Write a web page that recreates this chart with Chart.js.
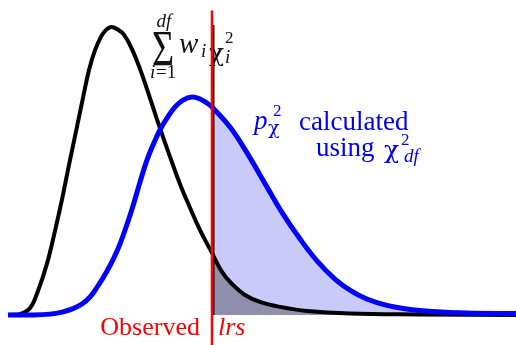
<!DOCTYPE html>
<html>
<head>
<meta charset="utf-8">
<script src="https://cdn.jsdelivr.net/npm/chart.js@4.4.0/dist/chart.umd.min.js"></script>
<style>
    body { margin: 0; background: #fff; }
</style>
</head>
<body>
<canvas id="myChart" width="516" height="345"></canvas>
<script>
// weighted sum of chi-square (black) and plain chi-square with df (blue)
let mixX = [0, 0.47, 0.87, 1.18, 1.54, 1.85, 2.13, 2.40, 2.68, 2.95, 3.19, 3.43, 3.66, 3.86, 4.06, 4.29, 4.57, 4.88, 5.20, 5.59, 5.98, 6.38, 6.77, 7.17, 7.56, 8.03, 8.43, 8.82, 9.33, 9.92, 10.71, 11.77, 13.46, 16.22, 20];
let mixY = [0, 0.003, 0.024, 0.083, 0.179, 0.290, 0.400, 0.517, 0.634, 0.748, 0.845, 0.914, 0.959, 0.983, 0.993, 0.986, 0.966, 0.917, 0.848, 0.748, 0.645, 0.545, 0.452, 0.369, 0.293, 0.214, 0.148, 0.107, 0.069, 0.045, 0.028, 0.014, 0.005, 0.002, 0];

let dfX = [0, 0.87, 1.65, 2.13, 2.56, 2.91, 3.23, 3.54, 3.90, 4.17, 4.41, 4.69, 4.92, 5.20, 5.47, 5.71, 5.98, 6.26, 6.57, 6.89, 7.24, 7.56, 7.83, 8.03, 8.74, 9.41, 10.20, 10.83, 11.50, 12.20, 12.87, 13.46, 14.13, 14.92, 15.83, 16.73, 18.07, 20];
let dfY = [0, 0, 0.003, 0.010, 0.022, 0.038, 0.062, 0.100, 0.152, 0.197, 0.245, 0.314, 0.376, 0.459, 0.534, 0.586, 0.638, 0.679, 0.717, 0.741, 0.752, 0.745, 0.731, 0.717, 0.648, 0.559, 0.441, 0.348, 0.262, 0.183, 0.124, 0.086, 0.055, 0.033, 0.019, 0.012, 0.007, 0.005];

// observed lrs
let observed = 8.03;

function pts(xs, ys) {
    return xs.map((x, i) => ({ x: x, y: ys[i] }));
}
function tail(xs, ys) {
    return pts(xs, ys).filter(p => p.x >= observed);
}

function chi(ctx, x, y, size) {
    ctx.font = size + 'px "DejaVu Serif"';
    ctx.fillText('\u03c7', x, y);
}

// labels drawn under the curves
const labels = {
    id: 'labels',
    beforeDatasetsDraw(chart) {
        let ctx = chart.ctx;
        ctx.save();
        ctx.textBaseline = 'alphabetic';
        ctx.textAlign = 'left';

        // sum w_i chi_i^2
        ctx.fillStyle = '#111';
        ctx.save();
        ctx.translate(152, 65);
        ctx.scale(0.76, 1);
        ctx.font = '50px "Liberation Serif"';
        ctx.fillText('\u03a3', 0, 0);
        ctx.restore();
        ctx.textAlign = 'center';
        ctx.font = 'italic 19px "Liberation Serif"';
        ctx.fillText('df', 164, 27);
        ctx.textAlign = 'left';
        ctx.fillText('i', 150, 78);
        ctx.font = '19px "Liberation Serif"';
        ctx.fillText('=1', 156, 78);
        ctx.font = 'italic 29px "Liberation Serif"';
        ctx.fillText('w', 179, 53);
        ctx.font = 'italic 19px "Liberation Serif"';
        ctx.fillText('i', 201, 57);
        chi(ctx, 209, 61, 25);
        ctx.font = '17px "Liberation Serif"';
        ctx.fillText('2', 225, 43);
        ctx.font = 'italic 19px "Liberation Serif"';
        ctx.fillText('i', 225, 63);

        // p_chi^2 calculated using chi^2_df
        ctx.fillStyle = '#0000f0';
        ctx.font = 'italic 27px "Liberation Serif"';
        ctx.fillText('p', 254, 129);
        ctx.font = '17px "Liberation Serif"';
        ctx.fillText('2', 273, 116);
        chi(ctx, 268, 134, 19);
        ctx.font = '27px "Liberation Serif"';
        ctx.fillText('calculated', 299, 130);
        ctx.fillText('using', 316, 156);
        chi(ctx, 384, 158, 25);
        ctx.font = '17px "Liberation Serif"';
        ctx.fillText('2', 401, 145);
        ctx.font = 'italic 19px "Liberation Serif"';
        ctx.fillText('df', 404, 162);

        // p_chi^2 inside the blue tail
        ctx.font = 'italic 27px "Liberation Serif"';
        ctx.fillText('p', 246, 250);
        ctx.font = '17px "Liberation Serif"';
        ctx.fillText('2', 268, 239);
        chi(ctx, 263, 257, 19);

        // p inside the grey tail
        ctx.fillStyle = '#111';
        ctx.font = 'italic 27px "Liberation Serif"';
        ctx.fillText('p', 228, 301);

        // Observed lrs
        let xr = chart.scales.x.getPixelForValue(observed);
        ctx.fillStyle = '#ff0000';
        ctx.font = '26px "Liberation Serif"';
        ctx.textAlign = 'right';
        ctx.fillText('Observed', xr - 12, 335);
        ctx.textAlign = 'left';
        ctx.font = 'italic 26px "Liberation Serif"';
        ctx.fillText('lrs', xr + 6, 335);

        ctx.restore();
    }
};

let ctx = document.getElementById('myChart').getContext('2d');
let chart = new Chart(ctx, {
    type: 'scatter',
    data: {
        datasets: [{
            // observed value
            data: [{ x: observed, y: -0.11 }, { x: observed, y: 1.05 }],
            showLine: true,
            borderColor: '#ff0000',
            borderWidth: 2.5,
            pointRadius: 0,
            clip: false
        }, {
            data: pts(dfX, dfY),
            showLine: true,
            borderColor: '#0000ff',
            borderWidth: 5,
            pointRadius: 0,
            tension: 0.4,
            clip: false
        }, {
            data: pts(mixX, mixY),
            showLine: true,
            borderColor: '#000000',
            borderWidth: 4,
            pointRadius: 0,
            tension: 0.4,
            clip: false
        }, {
            data: [{ x: observed + 0.07, y: 0 }, { x: observed + 0.07, y: 1 }],
            showLine: true,
            borderColor: '#000000',
            borderWidth: 1.5,
            pointRadius: 0
        }, {
            // p : tail of the weighted sum
            data: tail(mixX, mixY),
            showLine: true,
            borderWidth: 0,
            borderColor: 'rgba(0,0,0,0)',
            backgroundColor: '#8f8fad',
            fill: 'origin',
            pointRadius: 0,
            tension: 0.4
        }, {
            // p chi^2 : tail of chi^2_df
            data: tail(dfX, dfY),
            showLine: true,
            borderWidth: 0,
            borderColor: 'rgba(0,0,0,0)',
            backgroundColor: '#cacafa',
            fill: 'origin',
            pointRadius: 0,
            tension: 0.4
        }]
    },
    options: {
        responsive: false,
        animation: false,
        devicePixelRatio: 1,
        layout: { padding: { left: 8, right: 0, top: 25, bottom: 30 } },
        scales: {
            x: { type: 'linear', min: 0, max: 20, display: false },
            y: { min: 0, max: 1, display: false }
        },
        plugins: {
            legend: { display: false },
            tooltip: { enabled: false }
        }
    },
    plugins: [labels]
});
</script>
</body>
</html>
